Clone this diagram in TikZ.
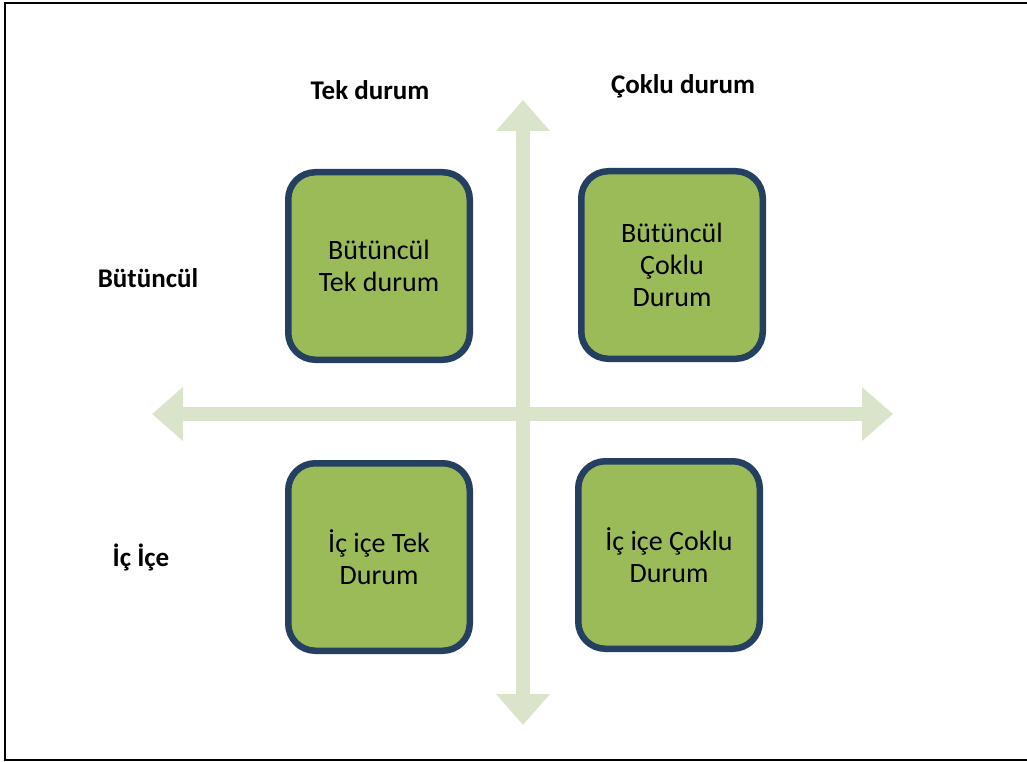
\documentclass[tikz,border=0pt]{standalone}
\usepackage{fontspec}
\setmainfont{Carlito}
\usetikzlibrary{arrows.meta}
\definecolor{axisgreen}{HTML}{D9E4CA}
\definecolor{boxfill}{HTML}{9BBB59}
\definecolor{boxline}{HTML}{243F60}
\tikzset{
  quad/.style={draw=boxline, fill=boxfill, line width=6.5pt, rounded corners=27pt,
    minimum width=181.5pt, minimum height=187.5pt, align=center,
    font=\fontsize{28}{32}\selectfont, inner sep=0pt},
  axislabel/.style={font=\fontsize{27}{30}\selectfont\bfseries, inner sep=0pt},
  axisline/.style={draw=axisgreen, line width=14.5pt,
    {Triangle[length=31pt,width=52pt]}-{Triangle[length=31pt,width=52pt]}},
}
\begin{document}
\begin{tikzpicture}[x=1pt,y=-1pt]
  \useasboundingbox (0,0) rectangle (1027,762);
  \begin{scope}
    \clip (0,0) rectangle (1027,762);
    \draw[line width=2pt] (5,3) rectangle (1032,760);
  \end{scope}

  % axes
  \coordinate (top) at (523,100);
  \coordinate (bottom) at (523,725);
  \coordinate (left) at (152,414);
  \coordinate (right) at (893,414);
  \draw[axisline] (top) -- (bottom);
  \draw[axisline] (left) -- (right);

  % quadrants
  \node[quad] (q1) at (379,266) {Bütüncül\\Tek durum};
  \node[quad] (q2) at (672,265) {Bütüncül\\Çoklu\\Durum};
  \node[quad] (q3) at (379,557) {İç içe Tek\\Durum};
  \node[quad] (q4) at (669,555) {İç içe Çoklu\\Durum};

  % axis labels
  \node[axislabel] (l1) at (370,90) {Tek durum};
  \node[axislabel] (l2) at (683,86) {Çoklu durum};
  \node[axislabel] (l3) at (148,278) {Bütüncül};
  \node[axislabel] (l4) at (141,557) {İç İçe};
\end{tikzpicture}
\end{document}
